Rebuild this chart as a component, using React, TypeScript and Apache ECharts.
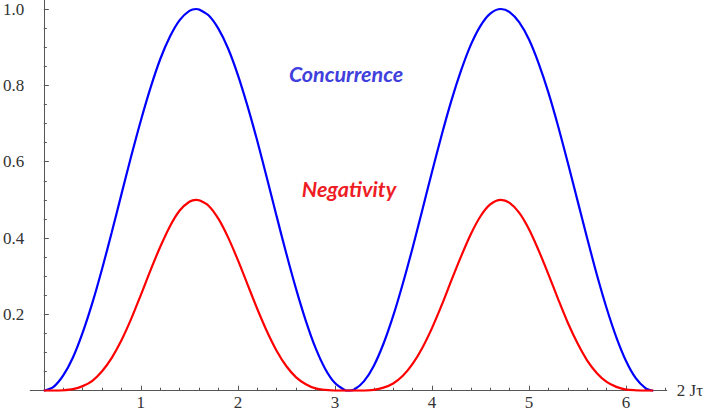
import React, { useEffect, useRef } from "react";
import * as echarts from "echarts";

// Sampled coupling time 2Jτ
const xs = [
  0, 0.1, 0.2, 0.3, 0.4, 0.5, 0.6, 0.7, 0.8, 0.9, 1.0, 1.1, 1.2, 1.3, 1.4, 1.5, 1.57,
  1.6, 1.7, 1.8, 1.9, 2.0, 2.1, 2.2, 2.3, 2.4, 2.5, 2.6, 2.7, 2.8, 2.9, 3.0, 3.1, 3.14,
  3.2, 3.3, 3.4, 3.5, 3.6, 3.7, 3.8, 3.9, 4.0, 4.1, 4.2, 4.3, 4.4, 4.5, 4.6, 4.71,
  4.8, 4.9, 5.0, 5.1, 5.2, 5.3, 5.4, 5.5, 5.6, 5.7, 5.8, 5.9, 6.0, 6.1, 6.2, 6.28,
];

const concurrence = [
  0, 0.01, 0.04, 0.087, 0.152, 0.23, 0.319, 0.415, 0.515, 0.614, 0.708, 0.794, 0.869, 0.928, 0.971, 0.995, 1.0,
  0.999, 0.983, 0.948, 0.896, 0.827, 0.745, 0.654, 0.556, 0.456, 0.358, 0.266, 0.183, 0.112, 0.057, 0.02, 0.002, 0.0,
  0.003, 0.025, 0.065, 0.123, 0.196, 0.281, 0.374, 0.473, 0.573, 0.67, 0.76, 0.839, 0.906, 0.956, 0.988, 1.0,
  0.992, 0.965, 0.92, 0.857, 0.781, 0.693, 0.597, 0.498, 0.399, 0.303, 0.216, 0.14, 0.078, 0.033, 0.007, 0.0,
];

const negativity = [
  0, 0.0, 0.001, 0.004, 0.012, 0.026, 0.051, 0.086, 0.132, 0.188, 0.251, 0.316, 0.377, 0.431, 0.472, 0.495, 0.5,
  0.499, 0.484, 0.45, 0.401, 0.342, 0.278, 0.214, 0.155, 0.104, 0.064, 0.035, 0.017, 0.006, 0.002, 0.0, 0.0, 0.0,
  0.0, 0.0, 0.002, 0.008, 0.019, 0.039, 0.07, 0.112, 0.164, 0.224, 0.289, 0.352, 0.41, 0.457, 0.488, 0.5,
  0.492, 0.466, 0.423, 0.367, 0.305, 0.24, 0.178, 0.124, 0.079, 0.046, 0.023, 0.01, 0.003, 0.001, 0.0, 0.0,
];

const xTicks = [1, 2, 3, 4, 5, 6];
const yTicks = [0.2, 0.4, 0.6, 0.8, 1.0];

const serif = "Liberation Serif";
const axisColor = "#555";
const labelColor = "#333";

// label only the listed tick values; the axis ends stay blank
const pick = (list: number[], fmt: (v: number) => string) => (v: number) =>
  list.some((t) => Math.abs(t - v) < 1e-6) ? fmt(v) : "";

export default function App() {
  const ref = useRef<HTMLDivElement>(null);

  useEffect(() => {
    if (!ref.current) return;
    const chart = echarts.init(ref.current, undefined, { renderer: "svg" });

    const pairs = (ys: number[]) => xs.map((x, i) => [x, ys[i]]);

    const labelStyle = {
      fontFamily: serif,
      fontSize: 17,
      fontStyle: "normal",
      fontWeight: "normal",
      color: labelColor,
    };

    chart.setOption({
      animation: false,
      textStyle: { fontFamily: serif },
      grid: { left: 25, right: 37, top: 0, bottom: 28.3, containLabel: false },
      xAxis: {
        type: "value",
        min: -0.14,
        max: 6.42,
        splitNumber: 6,
        name: "2 Jτ",
        nameLocation: "end",
        nameGap: 10,
        nameTextStyle: { ...labelStyle, verticalAlign: "middle" },
        axisLine: { onZero: true, lineStyle: { color: axisColor, width: 1 } },
        axisTick: { inside: true, length: 5, customValues: xTicks, lineStyle: { color: axisColor, width: 1 } },
        minorTick: { show: true, splitNumber: 5, length: 3, lineStyle: { color: axisColor, width: 1 } },
        axisLabel: {
          ...labelStyle,
          margin: 3,
          hideOverlap: false,
          formatter: pick(xTicks, (v) => String(Math.round(v))),
        },
        splitLine: { show: false },
      },
      yAxis: {
        type: "value",
        min: 0,
        max: 1.0236,
        splitNumber: 5,
        axisLine: { onZero: true, lineStyle: { color: axisColor, width: 1 } },
        axisTick: { inside: true, length: 5, customValues: yTicks, lineStyle: { color: axisColor, width: 1 } },
        minorTick: { show: true, splitNumber: 4, length: 3, lineStyle: { color: axisColor, width: 1 } },
        axisLabel: {
          ...labelStyle,
          margin: 6,
          hideOverlap: false,
          formatter: pick(yTicks, (v) => v.toFixed(1)),
        },
        splitLine: { show: false },
      },
      series: [
        {
          name: "Concurrence",
          type: "line",
          data: pairs(concurrence),
          smooth: 0.3,
          showSymbol: false,
          lineStyle: { color: "#0000ff", width: 2.2 },
          itemStyle: { color: "#0000ff" },
          z: 3,
        },
        {
          name: "Negativity",
          type: "line",
          data: pairs(negativity),
          smooth: 0.3,
          showSymbol: false,
          lineStyle: { color: "#ff0000", width: 2.2 },
          itemStyle: { color: "#ff0000" },
          z: 4,
        },
      ],
      graphic: [
        {
          type: "text",
          x: 346,
          y: 74,
          style: {
            text: "Concurrence",
            font: "italic bold 21.5px Lato",
            fill: "#4040dd",
            align: "center",
            verticalAlign: "middle",
          },
        },
        {
          type: "text",
          x: 349,
          y: 189,
          style: {
            text: "Negativity",
            font: "italic bold 21.5px Lato",
            fill: "#ee1c24",
            align: "center",
            verticalAlign: "middle",
          },
        },
      ],
    });

    return () => chart.dispose();
  }, []);

  return (
    <div
      ref={ref}
      style={{ position: "fixed", left: 0, top: 0, width: 706, height: 419, background: "#fff" }}
    />
  );
}
